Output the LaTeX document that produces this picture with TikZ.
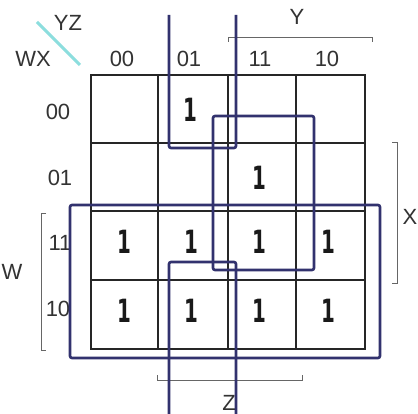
\documentclass[tikz,border=0pt]{standalone}
\usepackage{fontspec}
\setmainfont{Liberation Sans}
\newfontfamily\onefont{DejaVu Sans}
\begin{document}
\begin{tikzpicture}[x=1pt,y=-1pt,
  gridline/.style={line width=2pt,draw=black!85},
  loopline/.style={line width=2.6pt,draw=loopblue,rounded corners=2pt},
  brk/.style={line width=0.9pt,draw=black!60},
  lab/.style={font=\fontsize{22}{22}\selectfont,text=black!80,inner sep=0pt},
  one/.style={font=\onefont\bfseries\fontsize{32}{32}\selectfont,text=black!90,inner sep=0pt,xscale=0.62}]
\definecolor{loopblue}{RGB}{50,50,110}
\definecolor{diagcyan}{RGB}{140,222,222}
\useasboundingbox (0,0) rectangle (418,414);
\fill[white] (0,0) rectangle (418,414);
% grid
\draw[gridline] (91,75) rectangle (365,349);
\foreach \x in {158,228,296} \draw[gridline] (\x,75) -- (\x,349);
\foreach \y in {143,211,280} \draw[gridline] (91,\y) -- (365,\y);
% diagonal
\draw[line width=3pt,diagcyan] (37,22) -- (80,65);
% labels
\node[lab] (yz) at (68,23) {YZ};
\node[lab] (wx) at (33,59) {WX};
\node[lab] (c00) at (122,59) {00};
\node[lab] (c01) at (189,59) {01};
\node[lab] (c11) at (260,59) {11};
\node[lab] (c10) at (327,59) {10};
\node[lab] (r00) at (58,112) {00};
\node[lab] (r01) at (60,178) {01};
\node[lab] (r11) at (60,243) {11};
\node[lab] (r10) at (58,309) {10};
% brackets
\draw[brk] (228,42) -- (228,37) -- (372,37) -- (372,42);
\node[lab] (ylab) at (297,17) {Y};
\draw[brk] (392,142) -- (397,142) -- (397,283) -- (392,283);
\node[lab] (xlab) at (410,217) {X};
\draw[brk] (46,213) -- (41,213) -- (41,350) -- (46,350);
\node[lab] (wlab) at (12,272) {W};
\draw[brk] (157,375) -- (157,380) -- (302,380) -- (302,375);
\node[lab] (zlab) at (229,403) {Z};
% ones
\node[one] (m1) at (190,110) {1};
\node[one] (m7) at (259,178) {1};
\foreach \x/\n in {124/a,191/b,259/c,328/d} {
  \node[one] (r3\n) at (\x,242) {1};
  \node[one] (r4\n) at (\x,311) {1};
}
% loops
\draw[loopline] (169,15) -- (169,148) -- (236,148) -- (236,15);
\draw[loopline] (169,414) -- (169,262) -- (236,262) -- (236,414);
\draw[loopline] (213,116) rectangle (314,270);
\draw[loopline] (70,205) rectangle (380,358);
\end{tikzpicture}
\end{document}
